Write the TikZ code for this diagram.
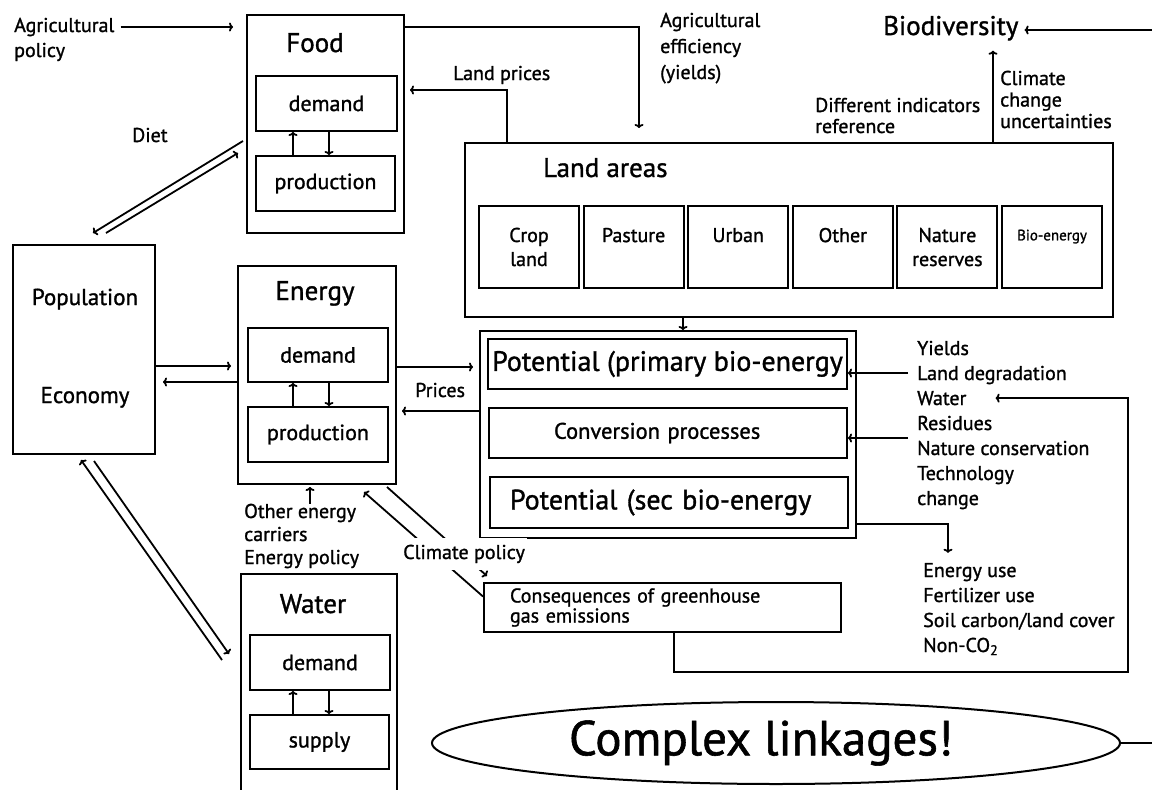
\documentclass[tikz,border=0pt]{standalone}
\usepackage{fontspec}
\setmainfont{PT Sans}[FakeBold=1.2]
\usetikzlibrary{positioning,arrows.meta,shapes.geometric,calc}

\begin{document}
\begin{tikzpicture}[x=1pt,y=-1pt,
  box/.style={draw, line width=2pt, inner sep=0pt, anchor=north west},
  arr/.style={line width=1.8pt, -{To[length=4pt,width=9pt]}},
  txt/.style={inner sep=0pt, align=left, anchor=base west, font=\fontsize{20}{25}\selectfont},
  title/.style={inner sep=0pt, anchor=base, font=\fontsize{27}{30}\selectfont},
  part/.style={box, font=\fontsize{22}{24}\selectfont}]
\useasboundingbox (0,0) rectangle (1152,790);
\fill[white] (0,0) rectangle (1152,790);
\clip (0,0) rectangle (1152,790);

% Food
\node[box, minimum width=157pt, minimum height=218pt] (food) at (246,14) {};
\node[title] (foodt) at (315,52) {Food};
\node[part, minimum width=141pt, minimum height=55pt] (food-d) at (255,75) {demand};
\node[part, minimum width=139pt, minimum height=55pt] (food-p) at (255,155) {production};

% Energy
\node[box, minimum width=158pt, minimum height=218pt] (energy) at (237,265) {};
\node[title] (energyt) at (315,300) {Energy};
\node[part, minimum width=140pt, minimum height=54pt] (energy-d) at (247,327) {demand};
\node[part, minimum width=140pt, minimum height=55pt] (energy-p) at (247,406) {production};

% Water (runs off the page)
\node[box, minimum width=156pt, minimum height=240pt] (water) at (240,573) {};
\node[title] (watert) at (313,613) {Water};
\node[part, minimum width=140pt, minimum height=55pt] (water-d) at (249,634) {demand};
\node[part, minimum width=139pt, minimum height=54pt] (water-p) at (249,714) {supply};

% demand <-> production
\foreach \s in {food,energy,water}{
  \draw[arr] (\s-p.north -| 293,0) -- (\s-d.south -| 293,0);
  \draw[arr] (\s-d.south -| 329,0) -- (\s-p.north -| 329,0);
}

% Population / Economy
\node[box, minimum width=142pt, minimum height=209pt] (pop) at (12,244) {};
\node[title, font=\fontsize{23}{25}\selectfont] (popt) at (85,305) {Population};
\node[title, font=\fontsize{23}{25}\selectfont] (ecot) at (85,403) {Economy};

% Land areas
\node[box, minimum width=648pt, minimum height=174pt] (land) at (464,142) {};
\node[title, anchor=base west] (landt) at (543,177) {Land areas};
\foreach \t [count=\i from 0] in {Crop\\land, Pasture\\~, Urban\\~, Other\\~, Nature\\reserves, {\fontsize{15}{24}\selectfont Bio-energy}\\~}
  \node[box, align=center, minimum width=100pt, minimum height=82pt,
        font=\fontsize{20}{24}\selectfont] (lu\i) at (478+104.6*\i,205) {\t};

% Bio-energy potential
\node[box, minimum width=376pt, minimum height=207pt] (pot) at (479,330) {};
\node[box, minimum width=359pt, minimum height=50pt, font=\fontsize{28}{30}\selectfont] (prim) at (487,338) {Potential (primary bio-energy};
\node[box, minimum height=50pt, text width=228pt, inner xsep=65pt, align=left,
      font=\fontsize{22.5}{24}\selectfont] (conv) at (488,407) {Conversion processes};
\node[box, minimum height=51pt, text width=318pt, inner xsep=20pt, align=left,
      font=\fontsize{28}{30}\selectfont] (sec) at (489,476) {Potential (sec bio-energy};

% Greenhouse gas box
\node[box, minimum width=357pt, minimum height=49pt, text width=305pt, inner xsep=26pt,
      align=left, font=\fontsize{20}{20}\selectfont] (ghg) at (483,582) {Consequences of greenhouse\\gas emissions};

\node[draw, ellipse, line width=2pt, minimum width=688pt, minimum height=82pt, inner sep=0pt,
      font=\fontsize{49}{52}\selectfont] (complex) at (776,743) {\hspace*{-30pt}Complex linkages!};

% Labels
\node[txt] (agripol) at (14,57) {Agricultural\\policy};
\node[txt] (diet) at (132,142) {Diet};
\node[txt] (lprice) at (453,80) {Land prices};
\node[txt, font=\fontsize{20}{26}\selectfont] (agreff) at (660,79) {Agricultural\\efficiency\\(yields)};
\node[txt, font=\fontsize{27}{28}\selectfont] (biodiv) at (883,35) {Biodiversity};
\node[txt, font=\fontsize{20}{21}\selectfont] (indic) at (815,133) {Different indicators\\reference};
\node[txt, font=\fontsize{20}{21.5}\selectfont] (uncert) at (1000,128) {Climate\\change\\uncertainties};
\node[txt] (prices) at (415,397) {Prices};
\node[txt, font=\fontsize{20}{23}\selectfont] (other) at (244,564) {Other energy\\carriers\\Energy policy};
\foreach \t [count=\i] in {Yields,Land degradation,Water,Residues,Nature conservation,Technology,change}
  \node[txt] (in\i) at (917,330+25*\i) {\t};
\foreach \t [count=\i] in {Energy use,Fertilizer use,Soil carbon/land cover,Non-CO\textsubscript{2}}
  \node[txt] (out\i) at (923,552+25*\i) {\t};

% Connectors
\draw[arr, shorten <=6pt, shorten >=13pt] (agripol.east |- 0,27) -- (food.west |- 0,27);
\draw[arr, shorten >=14pt] (food.east |- 0,27) -| (land.north -| 639,0);
\draw[arr, shorten >=5pt] (land.north -| 507,0) |- (food.east |- 0,90);
\draw[arr, shorten >=10pt] (land.north -| 993,0) -- (biodiv.south -| 993,0);
\draw[arr, shorten >=6pt] (complex.east) -- (1170,743) |- (biodiv.east |- 0,30);

\draw[arr] ([shift={(-3pt,-17pt)}]food.west) -- ([shift={(9pt,11pt)}]pop.north);
\draw[arr] ([shift={(22pt,11pt)}]pop.north) -- ([shift={(-8pt,-29pt)}]food.west);

\draw[arr, shorten >=6pt] (pop.east |- 0,366) -- (energy.west |- 0,366);
\draw[arr, shorten >=7pt] (energy.west |- 0,382) -- (pop.east |- 0,382);
\draw[arr, shorten >=6pt] (energy.east |- 0,367) -- (pot.west |- 0,367);
\draw[arr, shorten >=5pt] (pot.west |- 0,411) -- (energy.east |- 0,411);
\draw[arr] (land.south -| 683,0) -- (pot.north -| 683,0);

\draw[arr, shorten <=9pt] (in2.west |- 0,373) -- (prim.east |- 0,373);
\draw[arr, shorten <=9pt] (in4.west |- 0,438) -- (conv.east |- 0,438);
\draw[arr, shorten >=10pt] (pot.east |- 0,524) -| (out1.north -| 948,0);
\draw[arr] (ghg.south -| 674,0) |- (1128,672) |- ([xshift=29pt]in3.east);
\draw[arr, shorten >=2pt] (other.north -| 310,0) -- (energy.south -| 310,0);

% Climate policy
\draw[arr] ([yshift=11pt]ghg.west) -- ([shift={(-33pt,-7pt)}]energy.south east);
\draw[arr] ([shift={(-10pt,-2pt)}]energy.south east) -- ([shift={(4pt,6pt)}]ghg.north west);
\node[txt, fill=white, inner xsep=2pt, inner ysep=7pt] (climpol) at (401,559) {Climate policy};

% Population <-> Water
\draw[arr] ([shift={(-18pt,-87pt)}]water.north west) -- ([shift={(-3pt,-5pt)}]pop.south);
\draw[arr] ([shift={(10pt,-6pt)}]pop.south) -- ([shift={(-11pt,-81pt)}]water.north west);
\end{tikzpicture}
\end{document}
